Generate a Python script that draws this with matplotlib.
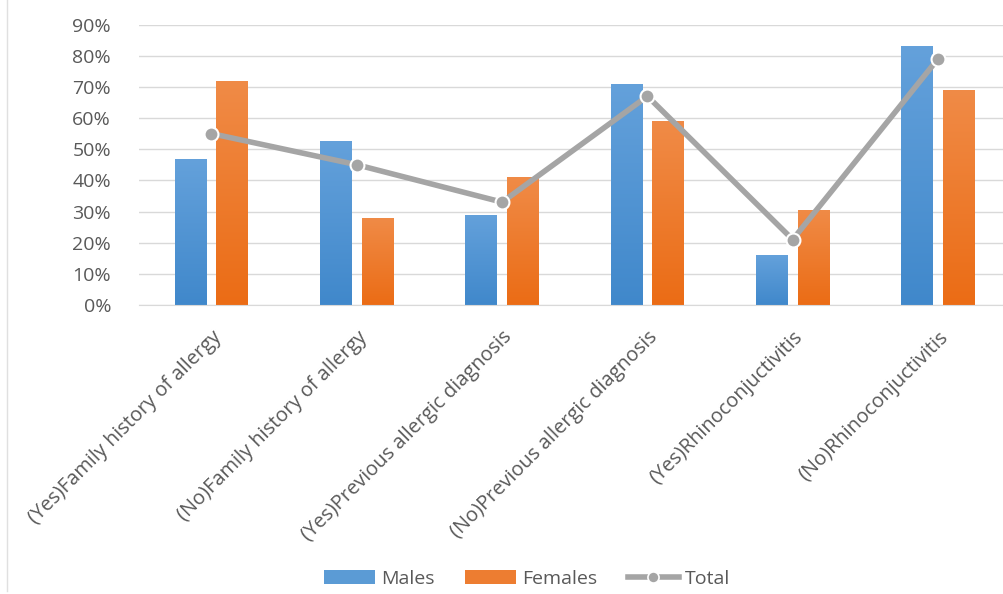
import numpy as np
import matplotlib
matplotlib.use("Agg")
import matplotlib.pyplot as plt
from matplotlib.colors import LinearSegmentedColormap
from matplotlib.lines import Line2D
from matplotlib.patches import Patch

categories = ["(Yes)Family history of allergy", "(No)Family history of allergy",
              "(Yes)Previous allergic diagnosis", "(No)Previous allergic diagnosis",
              "(Yes)Rhinoconjuctivitis", "(No)Rhinoconjuctivitis"]
males = [0.467, 0.527, 0.29, 0.71, 0.16, 0.83]
females = [0.72, 0.28, 0.41, 0.59, 0.305, 0.69]
total = [0.55, 0.45, 0.33, 0.67, 0.21, 0.79]
yticks = [0, 0.1, 0.2, 0.3, 0.4, 0.5, 0.6, 0.7, 0.8, 0.9]
ytick_labels = ["0%", "10%", "20%", "30%", "40%", "50%", "60%", "70%", "80%", "90%"]

plt.rcParams['font.family'] = ['Open Sans', 'DejaVu Sans']
TXT = "#595959"

W, H = 1004, 594
fig = plt.figure(figsize=(W / 100, H / 100), dpi=100)
ax = fig.add_axes([138.8 / W, 1 - 305 / H, (1010.7 - 138.8) / W, (305 - 24.5) / H])

x = np.arange(len(categories))
bw = 0.22
off = 0.143
bm = ax.bar(x - off, males, bw, color="#5B9BD5", zorder=2)
bf = ax.bar(x + off, females, bw, color="#ED7D31", zorder=2)

cm_blue = LinearSegmentedColormap.from_list("b", ["#4088CB", "#64A1DB"])
cm_orng = LinearSegmentedColormap.from_list("o", ["#EB6C15", "#F08B47"])
grad = np.linspace(0, 1, 256).reshape(-1, 1)
for bars, cmap in ((bm, cm_blue), (bf, cm_orng)):
    for p in bars:
        x0, y0 = p.get_x(), p.get_y()
        w, h = p.get_width(), p.get_height()
        im = ax.imshow(grad, cmap=cmap, origin="lower", aspect="auto",
                       extent=(x0, x0 + w, y0, y0 + h), zorder=2.1)
        im.set_clip_path(p)

ax.plot(x, total, color="#A5A5A5", lw=4.0, marker="o", ms=10,
        mfc="#A5A5A5", mec="white", mew=1.5, zorder=4, solid_capstyle="round")

ax.set_xlim(-0.5, len(categories) - 0.5)
ax.set_ylim(0, 0.9)
ax.set_yticks(yticks)
ax.set_yticklabels(ytick_labels)
ax.set_xticks(x)
ax.set_xticklabels(categories, rotation=45, ha="right", rotation_mode="anchor")
ax.tick_params(axis="y", length=0, pad=20, labelsize=14, labelcolor=TXT)
ax.tick_params(axis="x", length=0, pad=16, labelsize=14.4, labelcolor=TXT)
ax.yaxis.grid(True, color="#D9D9D9", lw=1)
ax.set_axisbelow(True)
for s in ["top", "right", "left"]:
    ax.spines[s].set_visible(False)
ax.spines["bottom"].set_color("#D9D9D9")

fig.add_artist(Line2D([7.5 / W, 7.5 / W], [0.005, 1], color="#E0E0E0", lw=1))

handles = [Patch(facecolor="#5B9BD5", label="Males"),
           Patch(facecolor="#ED7D31", label="Females"),
           Line2D([], [], color="#A5A5A5", lw=4.0, marker="o", ms=8, mfc="#A5A5A5",
                  mec="white", mew=1.2, label="Total")]
fig.legend(handles=handles, loc="center", bbox_to_anchor=(527 / W, 1 - 579 / H),
           ncol=3, frameon=False, fontsize=14, labelcolor=TXT, handlelength=2.6,
           handleheight=0.7, columnspacing=1.6, handletextpad=0.3)

fig.savefig("out.png", dpi=100)
